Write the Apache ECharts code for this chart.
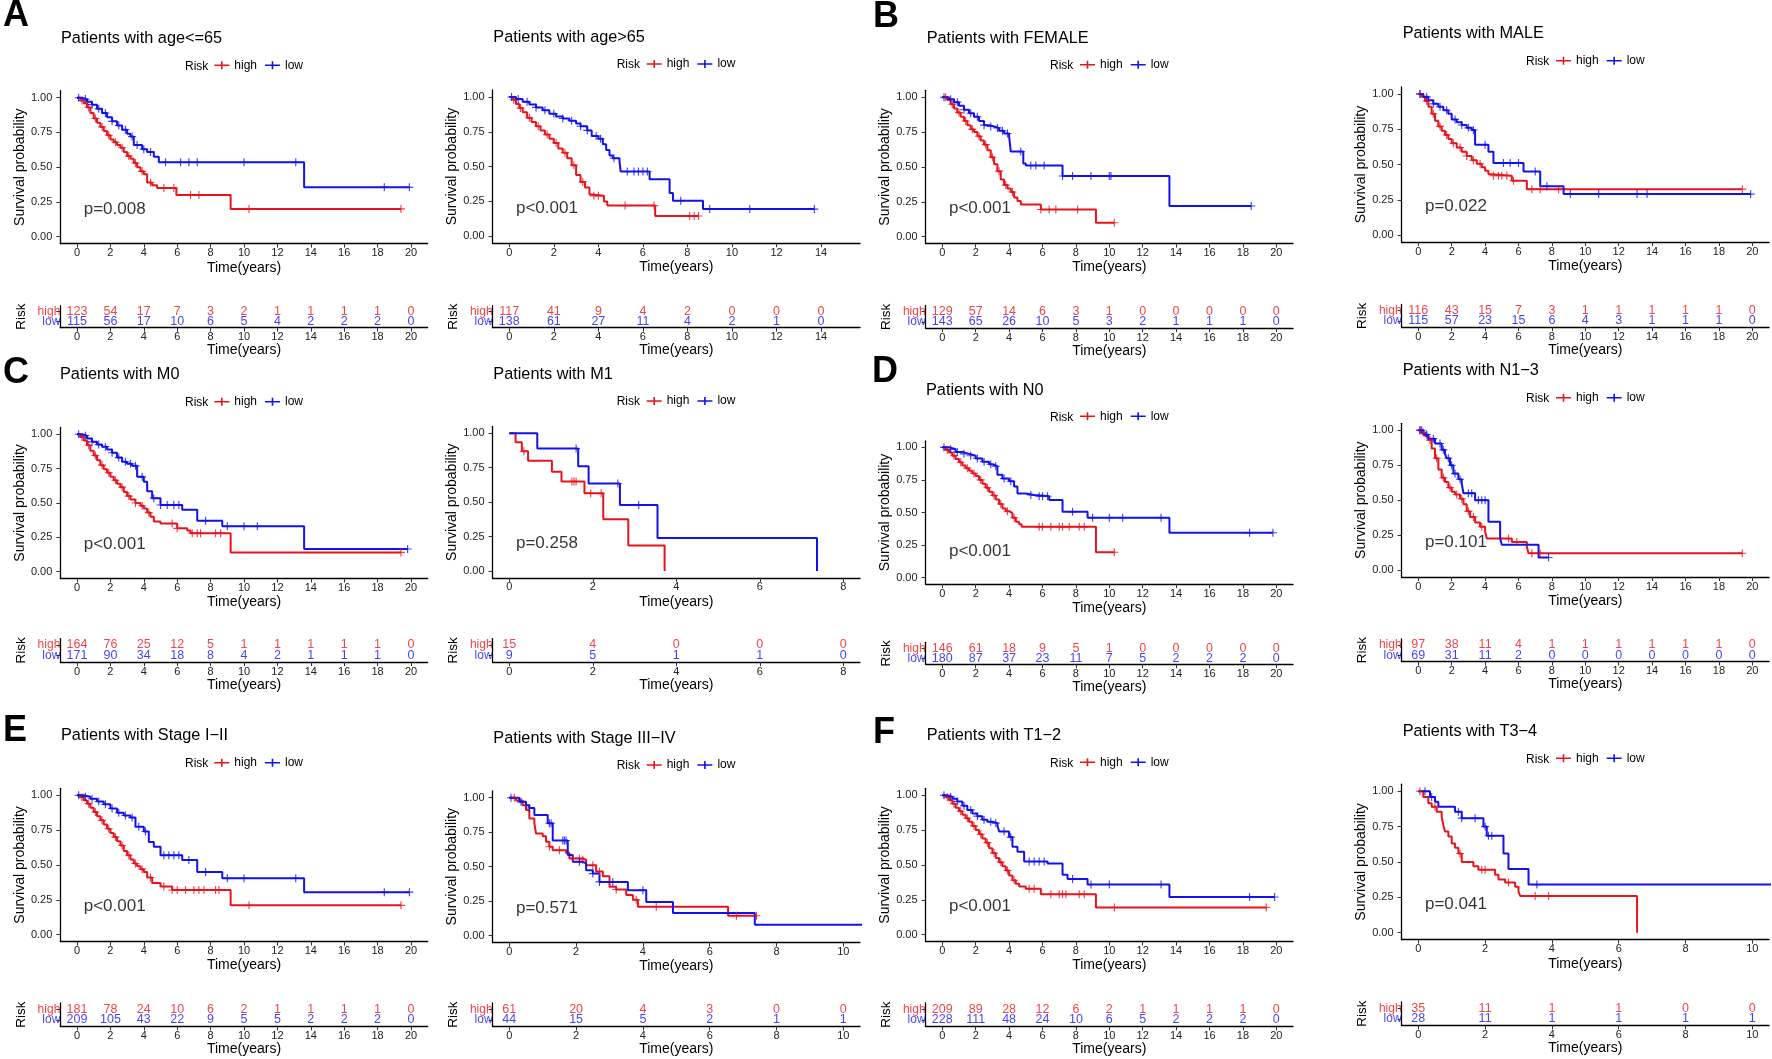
<!DOCTYPE html>
<html>
<head>
<meta charset="utf-8">
<script src="https://cdn.jsdelivr.net/npm/echarts@6/dist/echarts.min.js"></script>
<style>html,body{margin:0;padding:0;background:#fff;}#c{width:1772px;height:1059px;}</style>
</head>
<body>
<div id="c"></div>
<script>
// ---------------- DATA ----------------
const riskTimes20 = [0,2,4,6,8,10,12,14,16,18,20];
const riskTimes14 = [0,2,4,6,8,10,12,14];
const riskTimes10 = [0,2,4,6,8,10];
const riskTimes8  = [0,2,4,6,8];
const riskRows = ['high','low'];

// A1: age<=65
const age65L_high = [[0,1],[0.2,0.98],[0.4,0.96],[0.6,0.93],[0.8,0.89],[1.0,0.85],[1.2,0.82],[1.4,0.79],[1.6,0.76],[1.8,0.73],[2.0,0.70],[2.2,0.68],[2.4,0.66],[2.6,0.64],[2.8,0.61],[3.0,0.58],[3.2,0.56],[3.4,0.53],[3.6,0.50],[3.8,0.47],[4.0,0.45],[4.2,0.39],[4.5,0.37],[4.8,0.35],[5.95,0.30],[9.2,0.20],[19.4,0.20]];
const age65L_low = [[0,1],[0.3,0.99],[0.6,0.97],[0.9,0.95],[1.2,0.92],[1.5,0.89],[1.8,0.86],[2.1,0.83],[2.4,0.80],[2.7,0.77],[3.0,0.74],[3.2,0.72],[3.4,0.66],[3.9,0.63],[4.2,0.61],[4.6,0.575],[4.9,0.535],[13.6,0.355],[19.9,0.355]];
const age65L_highCens = [0.3,0.7,1.1,1.5,1.9,2.3,2.7,3.1,3.5,3.9,4.4,5.2,5.8,6.8,7.3,10.3,19.4];
const age65L_lowCens = [0.1,0.5,0.9,1.3,1.7,2.1,2.5,2.9,3.3,3.6,4.0,4.4,5.3,6.2,6.7,7.2,10.0,13.1,18.4,19.9];
const age65L_riskHigh = [123,54,17,7,3,2,1,1,1,1,0];
const age65L_riskLow  = [115,56,17,10,6,5,4,2,2,2,0];

// A2: age>65
const age65G_high = [[0,1],[0.15,0.98],[0.3,0.95],[0.45,0.92],[0.6,0.89],[0.8,0.85],[1.0,0.82],[1.2,0.79],[1.4,0.76],[1.6,0.73],[1.8,0.70],[2.0,0.67],[2.2,0.63],[2.4,0.60],[2.6,0.56],[2.8,0.51],[3.0,0.44],[3.2,0.39],[3.4,0.35],[3.6,0.30],[3.7,0.29],[4.25,0.25],[4.4,0.22],[6.55,0.145],[8.5,0.145]];
const age65G_low = [[0,1],[0.3,0.985],[0.6,0.965],[0.9,0.945],[1.2,0.925],[1.5,0.905],[1.8,0.88],[2.1,0.86],[2.4,0.845],[2.7,0.83],[3.0,0.81],[3.2,0.79],[3.5,0.76],[3.7,0.72],[4.0,0.70],[4.2,0.66],[4.35,0.62],[4.5,0.58],[4.65,0.56],[4.95,0.535],[5.0,0.465],[6.3,0.41],[7.2,0.31],[7.35,0.255],[8.7,0.195],[13.7,0.195]];
const age65G_highCens = [0.2,0.5,0.9,1.3,1.7,2.1,2.5,2.9,3.3,3.8,4.0,5.2,6.5,8.1,8.3,8.5];
const age65G_lowCens = [0.1,0.4,0.8,1.2,1.6,2.0,2.4,2.8,3.2,3.5,3.9,4.1,4.7,5.3,5.6,5.8,6.0,6.2,7.7,9.0,10.8,13.7];
const age65G_riskHigh = [117,41,9,4,2,0,0,0];
const age65G_riskLow  = [138,61,27,11,4,2,1,0];

// B1: FEMALE
const female_high = [[0,1],[0.3,0.98],[0.5,0.95],[0.7,0.92],[0.9,0.89],[1.1,0.86],[1.3,0.83],[1.5,0.80],[1.7,0.77],[1.9,0.75],[2.1,0.72],[2.3,0.69],[2.5,0.66],[2.7,0.62],[2.9,0.57],[3.1,0.52],[3.3,0.47],[3.5,0.41],[3.7,0.37],[3.9,0.345],[4.1,0.32],[4.3,0.28],[4.5,0.255],[4.7,0.23],[5.9,0.195],[9.2,0.10],[10.3,0.10]];
const female_low = [[0,1],[0.4,0.985],[0.7,0.965],[1.0,0.94],[1.3,0.91],[1.6,0.885],[1.9,0.86],[2.2,0.83],[2.5,0.80],[2.8,0.79],[3.1,0.78],[3.4,0.76],[3.7,0.74],[4.0,0.72],[4.1,0.61],[4.85,0.525],[5.0,0.51],[7.2,0.435],[13.6,0.22],[18.5,0.22]];
const female_highCens = [0.2,0.6,1.0,1.4,1.8,2.2,2.6,3.0,3.4,3.8,4.2,5.9,6.4,6.8,8.1,10.3];
const female_lowCens = [0.1,0.5,0.9,1.3,1.7,2.1,2.5,2.9,3.3,3.6,3.9,4.7,5.3,5.6,6.1,7.2,7.8,8.9,10.0,10.1,18.5];
const female_riskHigh = [129,57,14,6,3,1,0,0,0,0,0];
const female_riskLow  = [143,65,26,10,5,3,2,1,1,1,0];

// B2: MALE
const male_high = [[0,1],[0.2,0.98],[0.4,0.95],[0.6,0.91],[0.8,0.86],[1.0,0.81],[1.2,0.77],[1.4,0.74],[1.6,0.71],[1.8,0.68],[2.0,0.65],[2.3,0.62],[2.6,0.59],[2.9,0.56],[3.2,0.53],[3.5,0.505],[3.8,0.48],[4.0,0.455],[4.2,0.43],[4.35,0.42],[5.6,0.385],[6.5,0.325],[19.4,0.325]];
const male_low = [[0,1],[0.3,0.98],[0.6,0.955],[0.9,0.93],[1.2,0.91],[1.5,0.885],[1.8,0.86],[2.0,0.82],[2.3,0.80],[2.6,0.78],[2.9,0.76],[3.2,0.745],[3.4,0.64],[4.2,0.59],[4.5,0.51],[6.3,0.45],[7.3,0.345],[8.7,0.29],[19.9,0.29]];
const male_highCens = [0.1,0.5,0.9,1.3,1.7,2.1,2.5,2.9,3.3,3.7,4.5,4.8,5.0,5.3,5.7,6.8,7.3,8.4,19.4];
const male_lowCens = [0.1,0.5,0.9,1.3,1.7,2.2,2.6,3.0,3.3,4.0,5.1,5.5,6.0,7.0,7.7,9.1,10.8,13.1,13.7,19.9];
const male_riskHigh = [116,43,15,7,3,1,1,1,1,1,0];
const male_riskLow  = [115,57,23,15,6,4,3,1,1,1,0];

// C1: M0
const m0_high = [[0,1],[0.2,0.98],[0.4,0.955],[0.6,0.92],[0.8,0.88],[1.0,0.845],[1.2,0.81],[1.4,0.775],[1.6,0.745],[1.8,0.72],[2.0,0.69],[2.2,0.665],[2.4,0.64],[2.6,0.615],[2.8,0.58],[3.0,0.55],[3.2,0.525],[3.5,0.50],[3.8,0.48],[4.0,0.46],[4.2,0.43],[4.4,0.40],[4.6,0.365],[5.0,0.35],[6.0,0.315],[6.6,0.30],[6.8,0.28],[9.2,0.14],[19.4,0.14]];
const m0_low = [[0,1],[0.3,0.99],[0.6,0.97],[0.9,0.945],[1.2,0.925],[1.5,0.91],[1.8,0.89],[2.1,0.865],[2.4,0.83],[2.7,0.80],[3.0,0.785],[3.3,0.77],[3.6,0.69],[4.0,0.655],[4.2,0.585],[4.5,0.535],[5.0,0.485],[6.3,0.45],[7.2,0.37],[8.7,0.33],[13.6,0.165],[19.8,0.165]];
const m0_highCens = [0.3,0.7,1.1,1.5,1.9,2.3,2.7,3.1,3.5,3.9,4.3,5.7,6.0,6.9,7.2,7.4,8.3,8.6,19.4];
const m0_lowCens = [0.1,0.5,0.9,1.3,1.7,2.1,2.5,2.9,3.2,3.5,3.9,4.6,5.0,5.4,5.8,6.1,7.7,9.0,10.0,10.8,19.8];
const m0_riskHigh = [164,76,25,12,5,1,1,1,1,1,0];
const m0_riskLow  = [171,90,34,18,8,4,2,1,1,1,0];

// C2: M1
const m1_high = [[0,1],[0.15,0.935],[0.3,0.87],[0.45,0.80],[1.02,0.72],[1.25,0.65],[1.8,0.565],[2.25,0.375],[2.85,0.185],[3.72,0]];
const m1_low = [[0,1],[0.67,0.89],[1.65,0.76],[1.9,0.635],[2.65,0.48],[3.55,0.24],[7.37,0]];
const m1_highCens = [0.35,1.5,1.55,1.6,1.95,2.2];
const m1_lowCens = [1.6,2.6,3.1];
const m1_riskHigh = [15,4,0,0,0];
const m1_riskLow  = [9,5,1,1,0];

// D1: N0
const n0_high = [[0,1],[0.2,0.98],[0.4,0.96],[0.6,0.935],[0.8,0.91],[1.0,0.885],[1.2,0.86],[1.4,0.84],[1.6,0.82],[1.8,0.80],[2.0,0.78],[2.2,0.75],[2.4,0.72],[2.6,0.69],[2.8,0.66],[3.0,0.63],[3.2,0.60],[3.4,0.565],[3.6,0.53],[3.8,0.51],[4.0,0.495],[4.2,0.46],[4.4,0.43],[4.6,0.41],[4.75,0.39],[9.2,0.195],[10.3,0.195]];
const n0_low = [[0,1],[0.4,0.985],[0.8,0.965],[1.2,0.95],[1.6,0.935],[2.0,0.915],[2.4,0.89],[2.8,0.87],[3.0,0.855],[3.3,0.79],[3.6,0.76],[4.0,0.74],[4.3,0.70],[4.5,0.645],[5.0,0.635],[5.5,0.625],[6.4,0.595],[7.2,0.505],[8.7,0.46],[13.6,0.345],[19.8,0.345]];
const n0_highCens = [0.3,0.7,1.1,1.5,1.9,2.3,2.7,3.1,3.5,3.9,4.3,5.8,6.0,6.5,7.0,7.2,7.6,8.2,8.5,10.3];
const n0_lowCens = [0.1,0.5,0.9,1.3,1.7,2.1,2.5,2.9,3.2,3.7,4.1,5.3,5.8,6.0,6.3,7.8,9.0,10.0,10.8,13.1,18.4,19.8];
const n0_riskHigh = [146,61,18,9,5,1,0,0,0,0,0];
const n0_riskLow  = [180,87,37,23,11,7,5,2,2,2,0];

// D2: N1-3
const n13_high = [[0,1],[0.2,0.985],[0.4,0.96],[0.6,0.93],[0.8,0.87],[1.0,0.80],[1.2,0.72],[1.4,0.66],[1.6,0.63],[1.8,0.59],[2.0,0.56],[2.2,0.54],[2.5,0.51],[2.7,0.47],[2.9,0.42],[3.1,0.38],[3.4,0.34],[3.7,0.31],[4.0,0.275],[4.1,0.225],[5.6,0.20],[6.5,0.165],[6.6,0.12],[19.4,0.12]];
const n13_low = [[0,1],[0.3,0.97],[0.6,0.94],[1.0,0.905],[1.4,0.86],[1.6,0.83],[1.7,0.80],[1.9,0.75],[2.1,0.69],[2.4,0.65],[2.6,0.62],[2.7,0.55],[3.4,0.50],[4.2,0.345],[4.9,0.225],[5.0,0.18],[7.2,0.09],[7.8,0.09]];
const n13_highCens = [0.1,0.3,0.7,1.1,1.5,1.9,2.3,2.6,3.0,3.3,3.8,5.4,5.9,6.8,7.3,19.4];
const n13_lowCens = [0.1,0.2,0.5,0.9,1.3,1.5,1.8,2.0,2.2,2.5,3.0,3.2,3.6,3.8,4.0,7.8];
const n13_riskHigh = [97,38,11,4,1,1,1,1,1,1,0];
const n13_riskLow  = [69,31,11,2,0,0,0,0,0,0,0];

// E1: Stage I-II
const stage12_high = [[0,1],[0.2,0.985],[0.4,0.965],[0.6,0.94],[0.8,0.91],[1.0,0.88],[1.2,0.85],[1.4,0.82],[1.6,0.79],[1.8,0.76],[2.0,0.73],[2.2,0.70],[2.4,0.67],[2.6,0.64],[2.8,0.60],[3.0,0.57],[3.2,0.54],[3.4,0.51],[3.6,0.49],[3.8,0.47],[4.0,0.45],[4.2,0.41],[4.5,0.37],[5.0,0.345],[5.7,0.32],[9.2,0.21],[19.4,0.21]];
const stage12_low = [[0,1],[0.4,0.99],[0.8,0.975],[1.2,0.955],[1.6,0.935],[2.0,0.905],[2.4,0.875],[2.8,0.855],[3.2,0.84],[3.5,0.775],[4.0,0.74],[4.3,0.665],[4.6,0.63],[5.0,0.57],[6.3,0.535],[7.2,0.45],[8.7,0.405],[13.6,0.305],[19.9,0.305]];
const stage12_highCens = [0.3,0.7,1.1,1.5,1.9,2.3,2.7,3.1,3.5,3.9,4.4,5.2,5.7,6.0,6.5,7.0,7.3,7.6,8.3,8.5,10.3,19.4];
const stage12_lowCens = [0.1,0.5,0.9,1.3,1.7,2.1,2.5,2.9,3.3,3.7,4.1,5.2,5.5,5.8,6.1,6.7,7.7,9.0,10.0,13.1,18.4,19.9];
const stage12_riskHigh = [181,78,24,10,6,2,1,1,1,1,0];
const stage12_riskLow  = [209,105,43,22,9,5,5,2,2,2,0];

// E2: Stage III-IV
const stage34_high = [[0,1],[0.2,0.98],[0.4,0.945],[0.5,0.91],[0.6,0.85],[0.75,0.815],[0.8,0.74],[1.0,0.72],[1.1,0.68],[1.2,0.645],[1.3,0.62],[1.7,0.60],[1.8,0.56],[2.2,0.55],[2.3,0.51],[2.6,0.465],[2.8,0.43],[3.0,0.355],[3.2,0.335],[3.5,0.295],[3.7,0.26],[3.85,0.21],[6.55,0.145],[7.4,0.145]];
const stage34_low = [[0,1],[0.3,0.97],[0.5,0.945],[0.6,0.925],[0.75,0.875],[1.15,0.815],[1.3,0.69],[1.75,0.585],[1.9,0.535],[2.2,0.525],[2.3,0.475],[2.5,0.45],[2.7,0.39],[3.55,0.33],[4.1,0.245],[4.9,0.165],[7.35,0.08],[11,0.08]];
const stage34_highCens = [0.15,1.2,1.5,1.9,2.1,2.2,2.5,2.7,3.2,3.8,4.4,6.8,7.4];
const stage34_lowCens = [0.05,0.35,0.6,1.2,1.25,1.6,1.65,1.7,2.1,2.5,2.7,3.1,4.0];
const stage34_riskHigh = [61,20,4,3,0,0];
const stage34_riskLow  = [44,15,5,2,1,1];

// F1: T1-2
const t12_high = [[0,1],[0.2,0.985],[0.4,0.965],[0.6,0.94],[0.8,0.91],[1.0,0.885],[1.2,0.86],[1.4,0.835],[1.6,0.81],[1.8,0.78],[2.0,0.75],[2.2,0.72],[2.4,0.69],[2.6,0.66],[2.8,0.62],[3.0,0.585],[3.2,0.55],[3.4,0.52],[3.6,0.49],[3.8,0.46],[4.0,0.425],[4.2,0.39],[4.4,0.365],[4.6,0.345],[5.0,0.33],[5.9,0.29],[9.2,0.195],[19.4,0.195]];
const t12_low = [[0,1],[0.3,0.99],[0.6,0.975],[0.9,0.955],[1.2,0.925],[1.5,0.895],[1.8,0.87],[2.1,0.85],[2.4,0.825],[2.7,0.81],[3.0,0.80],[3.3,0.785],[3.4,0.74],[4.0,0.70],[4.2,0.63],[4.5,0.595],[4.9,0.525],[6.3,0.51],[7.2,0.43],[7.5,0.40],[8.7,0.36],[13.6,0.27],[19.9,0.27]];
const t12_highCens = [0.3,0.7,1.1,1.5,1.9,2.3,2.7,3.1,3.5,3.9,4.3,5.2,5.5,6.5,7.0,7.2,7.4,8.2,8.5,10.3,19.4];
const t12_lowCens = [0.1,0.5,0.9,1.3,1.7,2.1,2.5,2.9,3.2,3.7,4.1,5.2,5.5,5.8,6.1,7.8,8.9,10.0,13.1,18.4,19.9];
const t12_riskHigh = [209,89,28,12,6,2,1,1,1,1,0];
const t12_riskLow  = [228,111,48,24,10,6,5,2,2,2,0];

// F2: T3-4
const t34_high = [[0,1],[0.15,0.96],[0.3,0.915],[0.4,0.89],[0.55,0.855],[0.7,0.82],[0.75,0.76],[0.8,0.715],[0.9,0.68],[1.0,0.63],[1.1,0.60],[1.2,0.56],[1.3,0.50],[1.65,0.47],[1.8,0.445],[2.3,0.41],[2.4,0.375],[2.6,0.355],[2.9,0.325],[3.0,0.29],[3.05,0.26],[6.55,0]];
const t34_low = [[0,1],[0.35,0.96],[0.5,0.925],[0.6,0.89],[1.1,0.855],[1.3,0.81],[1.95,0.75],[2.05,0.685],[2.55,0.56],[2.7,0.45],[3.3,0.34],[11,0.34]];
const t34_highCens = [0.05,0.5,1.25,1.9,2.0,2.7,3.5,3.9];
const t34_lowCens = [0.2,0.4,1.2,1.3,1.7,2.0,2.1,2.2,3.55];
const t34_riskHigh = [35,11,1,1,0,0];
const t34_riskLow  = [28,11,1,1,1,1];

const panelTitles = ['Patients with age<=65','Patients with age>65','Patients with FEMALE','Patients with MALE',
  'Patients with M0','Patients with M1','Patients with N0','Patients with N1\u22123',
  'Patients with Stage I\u2212II','Patients with Stage III\u2212IV','Patients with T1\u22122','Patients with T3\u22124'];
const pValues = ['p=0.008','p<0.001','p<0.001','p=0.022','p<0.001','p=0.258','p<0.001','p=0.101','p<0.001','p=0.571','p<0.001','p=0.041'];
const xLimits = [20,15,20,20,20,8,20,20,20,10,20,10];
const panelLetters = ['A','B','C','D','E','F'];

const panels = [
  {high:age65L_high, low:age65L_low, hc:age65L_highCens, lc:age65L_lowCens, rh:age65L_riskHigh, rl:age65L_riskLow, times:riskTimes20},
  {high:age65G_high, low:age65G_low, hc:age65G_highCens, lc:age65G_lowCens, rh:age65G_riskHigh, rl:age65G_riskLow, times:riskTimes14},
  {high:female_high, low:female_low, hc:female_highCens, lc:female_lowCens, rh:female_riskHigh, rl:female_riskLow, times:riskTimes20},
  {high:male_high, low:male_low, hc:male_highCens, lc:male_lowCens, rh:male_riskHigh, rl:male_riskLow, times:riskTimes20},
  {high:m0_high, low:m0_low, hc:m0_highCens, lc:m0_lowCens, rh:m0_riskHigh, rl:m0_riskLow, times:riskTimes20},
  {high:m1_high, low:m1_low, hc:m1_highCens, lc:m1_lowCens, rh:m1_riskHigh, rl:m1_riskLow, times:riskTimes8},
  {high:n0_high, low:n0_low, hc:n0_highCens, lc:n0_lowCens, rh:n0_riskHigh, rl:n0_riskLow, times:riskTimes20},
  {high:n13_high, low:n13_low, hc:n13_highCens, lc:n13_lowCens, rh:n13_riskHigh, rl:n13_riskLow, times:riskTimes20},
  {high:stage12_high, low:stage12_low, hc:stage12_highCens, lc:stage12_lowCens, rh:stage12_riskHigh, rl:stage12_riskLow, times:riskTimes20},
  {high:stage34_high, low:stage34_low, hc:stage34_highCens, lc:stage34_lowCens, rh:stage34_riskHigh, rl:stage34_riskLow, times:riskTimes10},
  {high:t12_high, low:t12_low, hc:t12_highCens, lc:t12_lowCens, rh:t12_riskHigh, rl:t12_riskLow, times:riskTimes20},
  {high:t34_high, low:t34_low, hc:t34_highCens, lc:t34_lowCens, rh:t34_riskHigh, rl:t34_riskLow, times:riskTimes10}
];

// ---------------- LAYOUT (pixels) ----------------
const colLeft = [60.3, 492.6, 925.6, 1401.6];
const W = 367.4;
const layout = [
  {col:0, km:[90.75,152.9], tb:[305.7,22],   title:[61,38.3],     leg:[185,214.3,66.3]},
  {col:1, km:[90.0,153.2],  tb:[305.7,22],   title:[493.3,37.3],  leg:[616.7,646.7,65]},
  {col:2, km:[90.3,153.3],  tb:[305.5,22.7], title:[926.7,38.3],  leg:[1050,1080,65.7]},
  {col:3, km:[86.95,155.1], tb:[304.5,22.7], title:[1402.7,33.3], leg:[1526,1556,61.7]},
  {col:0, km:[427.4,151.1], tb:[638.6,23.5], title:[60,375],      leg:[185,214.3,402.7]},
  {col:1, km:[426.4,151.5], tb:[638.6,23.5], title:[493.3,374.3], leg:[616.7,646.7,402]},
  {col:2, km:[440.8,143.4], tb:[642.3,22],   title:[926,391],     leg:[1050,1080,417.3]},
  {col:3, km:[423.3,153.7], tb:[638.8,22.7], title:[1402.7,370.7],leg:[1526,1556,398.7]},
  {col:0, km:[788.3,153.3], tb:[1002.9,23.5],title:[61,736],      leg:[185,214.3,763.7]},
  {col:1, km:[790.8,151.8], tb:[1002.9,23.5],title:[493.3,738.3], leg:[616.7,646.7,766]},
  {col:2, km:[788.3,153.3], tb:[1002.9,23.5],title:[926.7,735.7], leg:[1050,1080,763.3]},
  {col:3, km:[784.2,155.5], tb:[1001.9,23.5],title:[1402.7,731.7],leg:[1526,1556,759.3]}
];
const letterPos = [[3,16],[873,17.5],[3,373],[872,372.5],[3,731.5],[873,733]];

// ---------------- BUILD ----------------
const FONT = '"Liberation Sans", Arial, Helvetica, sans-serif';
const RED = '#E8141C', BLUE = '#1212EE';
const CROSS = 'path://M4.3,0H5.7V4.3H10V5.7H5.7V10H4.3V5.7H0V4.3H4.3Z';
const LEGICON = 'path://M0,3.2H15V4.8H0Z M6.7,0H8.3V8H6.7Z';

function stepAt(curve, t) {
  let s = curve[0][1];
  for (const pt of curve) { if (pt[0] <= t) s = pt[1]; else break; }
  return s;
}

const grids = [], xAxes = [], yAxes = [], series = [], legends = [], graphics = [];

const axisLineStyle = {show:true, onZero:false, lineStyle:{color:'#000', width:1.3}};
const tickStyle = {show:true, length:4, lineStyle:{color:'#333', width:1}};
const labelStyle = {color:'#222', fontSize:11, fontFamily:FONT, hideOverlap:false};
const nameStyle = {color:'#000', fontSize:14, fontFamily:FONT};

panels.forEach((p, i) => {
  const L = layout[i];
  const left = colLeft[L.col];
  const xmax = xLimits[i];
  const xmin = -0.05 * xmax, xmx = 1.05 * xmax;
  const gKm = grids.length;
  grids.push({left:left, top:L.km[0], width:W, height:L.km[1], containLabel:false});
  const gTb = grids.length;
  grids.push({left:left, top:L.tb[0], width:W, height:L.tb[1], containLabel:false});

  const xCommon = (gi, gap) => ({
    gridIndex:gi, type:'value', min:xmin, max:xmx,
    name:'Time(years)', nameLocation:'middle', nameGap:gap, nameTextStyle:nameStyle,
    axisLine:axisLineStyle, axisTick:Object.assign({customValues:p.times}, tickStyle),
    axisLabel:Object.assign({customValues:p.times, margin:4, formatter:v => String(v)}, labelStyle),
    splitLine:{show:false}
  });
  xAxes.push(xCommon(gKm, 17));
  xAxes.push(xCommon(gTb, 15));

  const yt = [0,0.25,0.5,0.75,1];
  yAxes.push({
    gridIndex:gKm, type:'value', min:-0.05, max:1.05,
    name:'Survival probability', nameLocation:'middle', nameRotate:90, nameGap:31, nameTextStyle:nameStyle,
    axisLine:axisLineStyle, axisTick:Object.assign({customValues:yt}, tickStyle),
    axisLabel:Object.assign({customValues:yt, margin:8, formatter:v => v.toFixed(2)}, labelStyle),
    splitLine:{show:false}
  });
  yAxes.push({
    gridIndex:gTb, type:'value', min:0.4, max:2.6,
    name:'Risk', nameLocation:'middle', nameRotate:90, nameGap:32, nameTextStyle:{color:'#000', fontSize:13.5, fontFamily:FONT},
    axisLine:axisLineStyle, axisTick:Object.assign({customValues:[1,2]}, tickStyle),
    axisLabel:{show:false},
    splitLine:{show:false}
  });

  const km = gKm, tb = gTb;
  [['high', p.high, p.hc, RED], ['low', p.low, p.lc, BLUE]].forEach(([nm, curve, cens, col]) => {
    series.push({type:'line', name:nm, xAxisIndex:km, yAxisIndex:km, data:curve, step:'end',
      symbol:'none', showSymbol:false, lineStyle:{color:col, width:2}, itemStyle:{color:col}, z:3, silent:true, clip:true});
    series.push({type:'scatter', name:nm, xAxisIndex:km, yAxisIndex:km,
      data:cens.map(t => [t, stepAt(curve, t)]), symbol:CROSS, symbolSize:8,
      itemStyle:{color:col}, z:4, silent:true, clip:true});
  });
  series.push({type:'scatter', name:'pv'+i, xAxisIndex:km, yAxisIndex:km, data:[[0.02*xmax, 0.2]],
    symbolSize:0, itemStyle:{color:'transparent'}, silent:true,
    label:{show:true, position:'inside', align:'left', verticalAlign:'middle', formatter:pValues[i],
      color:'#000', fontSize:17, fontFamily:FONT}});
  [['tbh'+i, 2, p.rh, RED], ['tbl'+i, 1, p.rl, BLUE]].forEach(([nm, row, vals, col], r) => {
    series.push({type:'scatter', name:nm, xAxisIndex:tb, yAxisIndex:tb,
      data:p.times.map((t, k) => [t, row, vals[k]]), symbolSize:0, itemStyle:{color:'transparent'}, silent:true,
      labelLayout:{hideOverlap:false},
      label:{show:true, position:'inside', formatter:q => String(q.value[2]), color:col, fontSize:12.5, fontFamily:FONT}});
    // row name (high / low) at the table's left edge
    series.push({type:'scatter', name:nm+'n', xAxisIndex:tb, yAxisIndex:tb,
      data:[[xmin, row]], symbolSize:0, itemStyle:{color:'transparent'}, silent:true, clip:false,
      labelLayout:{hideOverlap:false},
      label:{show:true, position:'inside', align:'right', verticalAlign:'middle', offset:[-6,0],
        formatter:riskRows[r], color:col, fontSize:12, fontFamily:FONT}});
  });

  legends.push({left:L.leg[1], top:L.leg[2]-7, padding:0, itemGap:8, itemWidth:15, itemHeight:8,
    icon:LEGICON, data:['high','low'], selectedMode:false,
    textStyle:{color:'#000', fontSize:12, fontFamily:FONT}});
  graphics.push({type:'text', x:L.leg[0], y:L.leg[2], silent:true,
    style:{text:'Risk', fill:'#000', fontSize:12, fontFamily:FONT, verticalAlign:'middle', align:'left'}});
  graphics.push({type:'text', x:L.title[0], y:L.title[1], silent:true,
    style:{text:panelTitles[i], fill:'#000', fontSize:16.3, fontFamily:FONT, verticalAlign:'middle', align:'left'}});
});

panelLetters.forEach((t, k) => {
  graphics.push({type:'text', x:letterPos[k][0], y:letterPos[k][1], silent:true,
    style:{text:t, fill:'#000', fontSize:36, fontWeight:'bold', fontFamily:FONT, verticalAlign:'middle', align:'left'}});
});

const chart = echarts.init(document.getElementById('c'));
chart.setOption({
  backgroundColor:'#fff',
  animation:false,
  textStyle:{fontFamily:FONT},
  grid:grids, xAxis:xAxes, yAxis:yAxes, series:series, legend:legends,
  graphic:graphics
});
</script>
</body>
</html>
